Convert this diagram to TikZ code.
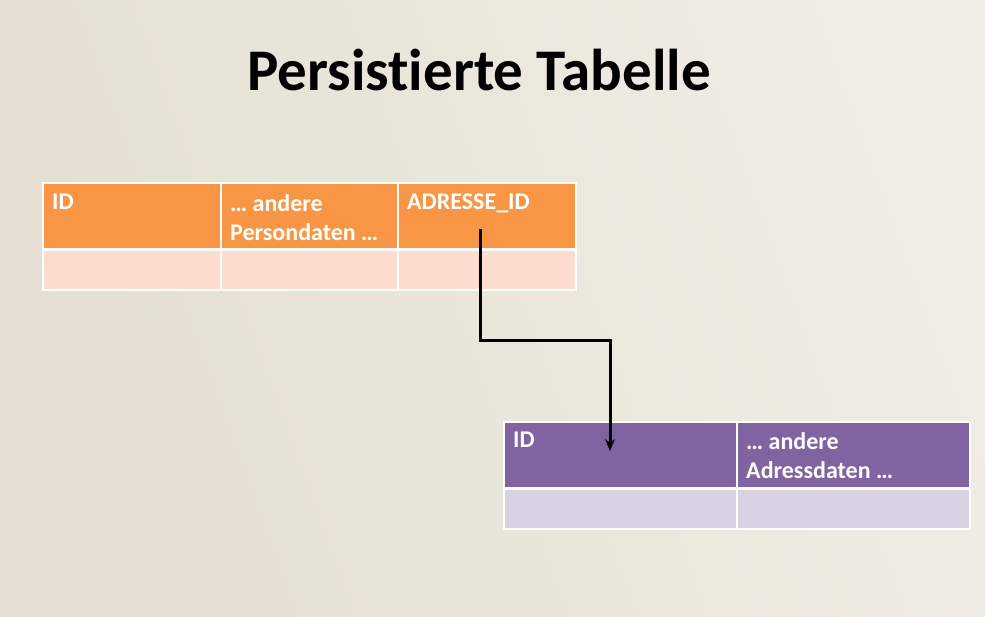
\documentclass[tikz,border=0pt]{standalone}
\usepackage{fontspec}
\setmainfont{Carlito}[Ligatures={NoCommon}]
\usetikzlibrary{arrows.meta}
\definecolor{bgA}{RGB}{229,223,210}
\definecolor{bgB}{RGB}{240,237,229}
\definecolor{orh}{RGB}{248,150,70}
\definecolor{orl}{RGB}{252,221,208}
\definecolor{puh}{RGB}{128,100,162}
\definecolor{pul}{RGB}{216,210,226}
\tikzset{
  cell/.style={draw=white, line width=1.6pt, inner sep=0pt, anchor=north west},
  hcell/.style={cell, minimum height=66pt},
  bcell/.style={cell, minimum height=40pt},
  htext/.style={anchor=north west, inner sep=0pt, text=white, font=\bfseries\fontsize{24}{29}\selectfont, align=left},
  link/.style={line width=3pt, -{Stealth[length=12pt,width=10pt]}}
}
\begin{document}
\begin{tikzpicture}[x=1pt,y=-1pt]
\useasboundingbox (0,0) rectangle (985,616);
\shade[left color=bgA, right color=bgB, shading angle=110] (0,0) rectangle (985,616);
\node[font=\bfseries\fontsize{59}{61}\selectfont, anchor=base] (title) at (479,90) {Persist\kern0pt ierte Tabelle};
% person table
\node[hcell, fill=orh, minimum width=178pt] (p1) at (42,182) {};
\node[hcell, fill=orh, minimum width=177pt] (p2) at (220,182) {};
\node[hcell, fill=orh, minimum width=178pt] (p3) at (397,182) {};
\node[bcell, fill=orl, minimum width=178pt] (q1) at (42,249) {};
\node[bcell, fill=orl, minimum width=177pt] (q2) at (220,249) {};
\node[bcell, fill=orl, minimum width=178pt] (q3) at (397,249) {};
\node[htext] (t1) at (52,194) {ID};
\node[htext] (t2) at (230,194) {… andere\\Persondaten …};
\node[htext] (t3) at (407,194) {ADRESSE\_ID};
% address table
\node[hcell, fill=puh, minimum width=233pt] (a1) at (503,421) {};
\node[hcell, fill=puh, minimum width=233pt] (a2) at (736,421) {};
\node[bcell, fill=pul, minimum width=233pt] (b1) at (503,488) {};
\node[bcell, fill=pul, minimum width=233pt] (b2) at (736,488) {};
\node[htext] (u1) at (513,432) {ID};
\node[htext] (u2) at (746,432) {… andere\\Adressdaten …};
% connector
\coordinate (s) at (480,229);
\coordinate (e) at (610,451);
\draw[link] (s) -- (480,340) -| (e);
\end{tikzpicture}
\end{document}
